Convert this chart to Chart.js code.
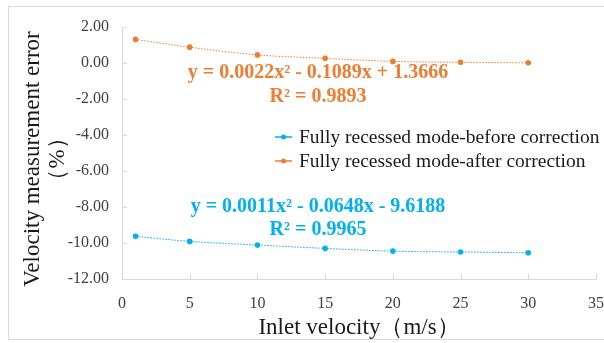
<!DOCTYPE html>
<html>
<head>
<meta charset="utf-8">
<script src="https://cdn.jsdelivr.net/npm/chart.js@4"></script>
<style>
  html, body { margin: 0; padding: 0; background: #fff; }
  #wrap { position: relative; width: 604px; height: 343px; }
  #marco { position: absolute; left: 8px; top: 6px; width: 600px; height: 334px; border: 1px solid #d9d9d9; box-sizing: border-box; }
</style>
</head>
<body>
<div id="wrap">
  <div id="marco"></div>
  <canvas id="grafico" width="604" height="343"></canvas>
</div>
<script>
// datos
const velocidades = [1, 5, 10, 15, 20, 25, 30];
const antesCorreccion = [-9.63, -9.91, -10.11, -10.30, -10.45, -10.50, -10.54];
const despuesCorreccion = [1.31, 0.88, 0.45, 0.26, 0.09, 0.04, 0.01];
const nombresSeries = ["Fully recessed mode-before correction", "Fully recessed mode-after correction"];
const tituloY = ["Velocity measurement error", "（%）"];
const ecuaciones = [
  ["y = 0.0011x² - 0.0648x - 9.6188", "R² = 0.9965"],
  ["y = 0.0022x² - 0.1089x + 1.3666", "R² = 0.9893"]
];

const azul = "#00B0F0";
const naranja = "#ED7D31";
const serif = "'Liberation Serif', 'Times New Roman', serif";

function puntos(valores) {
  return velocidades.map((v, i) => ({ x: v, y: valores[i] }));
}

// marcas hacia dentro, título Y, ecuaciones y leyenda
const extras = {
  id: "extras",
  afterDraw(chart) {
    const ctx = chart.ctx;
    const x = chart.scales.x, y = chart.scales.y;
    ctx.save();
    ctx.strokeStyle = "#d9d9d9";
    ctx.lineWidth = 1;
    x.ticks.forEach(t => {
      const px = Math.round(x.getPixelForValue(t.value)) + 0.5;
      ctx.beginPath(); ctx.moveTo(px, y.bottom); ctx.lineTo(px, y.bottom - 5); ctx.stroke();
    });
    y.ticks.forEach(t => {
      const py = Math.round(y.getPixelForValue(t.value)) + 0.5;
      ctx.beginPath(); ctx.moveTo(x.left, py); ctx.lineTo(x.left + 5, py); ctx.stroke();
    });

    // título del eje Y
    ctx.save();
    ctx.rotate(-Math.PI / 2);
    ctx.font = "23px " + serif;
    ctx.fillStyle = "#1a1a1a";
    ctx.textAlign = "center";
    ctx.textBaseline = "middle";
    ctx.fillText(tituloY[0], -159, 33);
    ctx.fillText(tituloY[1], -159, 58);
    ctx.restore();

    // ecuaciones
    ctx.font = "bold 20px " + serif;
    ctx.textAlign = "center";
    ctx.textBaseline = "middle";
    const cx = 318;
    ctx.fillStyle = naranja;
    ctx.fillText(ecuaciones[1][0], cx, 73);
    ctx.fillText(ecuaciones[1][1], cx, 97);
    ctx.fillStyle = azul;
    ctx.fillText(ecuaciones[0][0], cx, 207);
    ctx.fillText(ecuaciones[0][1], cx, 230);

    // leyenda
    ctx.font = "19.5px " + serif;
    ctx.textAlign = "left";
    chart.data.datasets.forEach((ds, i) => {
      const ly = 137 + i * 24;
      ctx.strokeStyle = ds.borderColor;
      ctx.lineWidth = 1.5;
      ctx.beginPath(); ctx.moveTo(275, ly); ctx.lineTo(292, ly); ctx.stroke();
      ctx.fillStyle = ds.borderColor;
      ctx.beginPath(); ctx.arc(283.5, ly, 2.5, 0, Math.PI * 2); ctx.fill();
      ctx.fillStyle = "#1a1a1a";
      ctx.fillText(ds.label, 299, ly + 1);
    });
    ctx.restore();
  }
};

new Chart(document.getElementById("grafico"), {
  type: "scatter",
  data: {
    datasets: [
      {
        label: nombresSeries[0],
        data: puntos(antesCorreccion),
        showLine: true,
        borderColor: azul,
        backgroundColor: azul,
        borderWidth: 1,
        borderDash: [1.5, 1.5],
        cubicInterpolationMode: "monotone",
        pointRadius: 2.8,
        pointBorderWidth: 0
      },
      {
        label: nombresSeries[1],
        data: puntos(despuesCorreccion),
        showLine: true,
        borderColor: naranja,
        backgroundColor: naranja,
        borderWidth: 1,
        borderDash: [1.5, 1.5],
        cubicInterpolationMode: "monotone",
        pointRadius: 2.8,
        pointBorderWidth: 0
      }
    ]
  },
  options: {
    responsive: false,
    animation: false,
    layout: { padding: { left: 0, right: 8, top: 27, bottom: 1 } },
    plugins: { legend: { display: false }, tooltip: { enabled: false } },
    scales: {
      x: {
        type: "linear",
        min: 0, max: 35,
        border: { color: "#d9d9d9", width: 1 },
        grid: { display: false },
        ticks: { stepSize: 5, color: "#404040", font: { family: serif, size: 16 }, padding: 7 },
        title: { display: true, text: "Inlet velocity（m/s）", color: "#1a1a1a", font: { family: serif, size: 23 }, padding: { top: 5, bottom: 0 } },
        afterFit: s => { s.height = 63; s.paddingLeft = 0; s.paddingRight = 0; }
      },
      y: {
        min: -12, max: 2,
        border: { color: "#d9d9d9", width: 1 },
        grid: { display: false },
        ticks: {
          stepSize: 2, color: "#404040", font: { family: serif, size: 16 }, padding: 5,
          callback: v => v.toFixed(2)
        },
        afterFit: s => { s.width = 122; }
      }
    }
  },
  plugins: [extras]
});
</script>
</body>
</html>
